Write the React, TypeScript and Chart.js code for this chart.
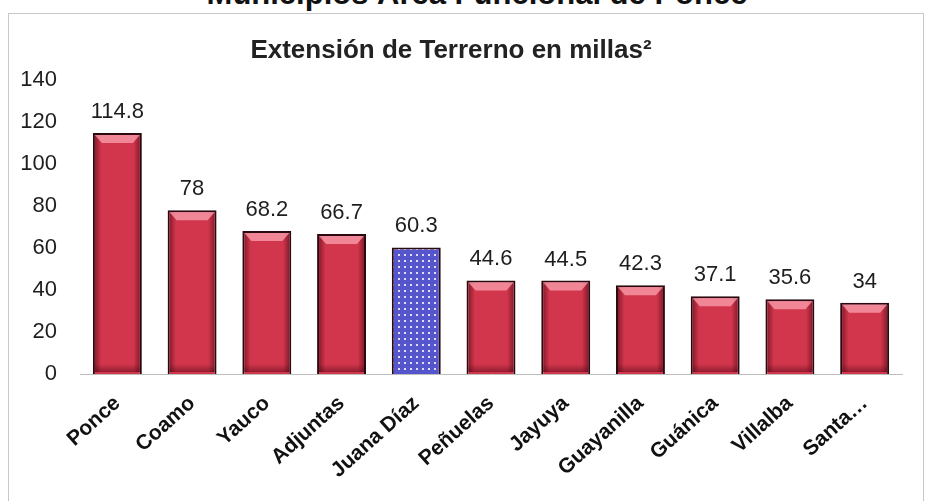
import { useEffect, useRef } from "react";
import { Chart, registerables } from "chart.js";

Chart.register(...registerables);

const mainTitle = "Municipios Área Funcional de Ponce";
const chartTitle = "Extensión de Terrerno en millas²";
const categories = [
  "Ponce",
  "Coamo",
  "Yauco",
  "Adjuntas",
  "Juana Díaz",
  "Peñuelas",
  "Jayuya",
  "Guayanilla",
  "Guánica",
  "Villalba",
  "Santa…",
];
const values = [114.8, 78, 68.2, 66.7, 60.3, 44.6, 44.5, 42.3, 37.1, 35.6, 34];
const valueLabels = ["114.8", "78", "68.2", "66.7", "60.3", "44.6", "44.5", "42.3", "37.1", "35.6", "34"];
const highlightIndex = 4;
const yMin = 0;
const yMax = 140;
const yStep = 20;

const FONT = "'Liberation Sans', Arial, Helvetica, sans-serif";

function makeDots(ctx: CanvasRenderingContext2D) {
  const c = document.createElement("canvas");
  c.width = 6;
  c.height = 6;
  const g = c.getContext("2d")!;
  g.fillStyle = "#5656cc";
  g.fillRect(0, 0, 6, 6);
  g.fillStyle = "#e2dcff";
  g.fillRect(2, 2, 2, 2);
  return ctx.createPattern(c, "repeat");
}

const bevelPlugin = {
  id: "bevel",
  afterDatasetsDraw(chart: any) {
    const ctx: CanvasRenderingContext2D = chart.ctx;
    const meta = chart.getDatasetMeta(0);
    meta.data.forEach((bar: any, i: number) => {
      const { x, y, base, width } = bar.getProps(["x", "y", "base", "width"], true);
      const x0 = x - width / 2 + 2;
      const x1 = x + width / 2 - 2;
      const top = y + 2;
      const bot = base - 2;
      ctx.save();
      if (i !== highlightIndex) {
        const g = ctx.createLinearGradient(x0, 0, x1, 0);
        g.addColorStop(0, "rgba(70,0,15,0.5)");
        g.addColorStop(0.14, "rgba(70,0,15,0)");
        g.addColorStop(0.86, "rgba(70,0,15,0)");
        g.addColorStop(1, "rgba(70,0,15,0.5)");
        ctx.fillStyle = g;
        ctx.fillRect(x0, top, x1 - x0, bot - top);
        const gb = ctx.createLinearGradient(0, bot - 8, 0, bot);
        gb.addColorStop(0, "rgba(70,0,15,0)");
        gb.addColorStop(1, "rgba(70,0,15,0.45)");
        ctx.fillStyle = gb;
        ctx.fillRect(x0, bot - 8, x1 - x0, 8);
        ctx.beginPath();
        ctx.moveTo(x0, top);
        ctx.lineTo(x1, top);
        ctx.lineTo(x1 - 7, top + 8);
        ctx.lineTo(x0 + 7, top + 8);
        ctx.closePath();
        ctx.fillStyle = "rgba(255,170,182,0.7)";
        ctx.fill();
      }
      ctx.fillStyle = "#1e1e1e";
      ctx.font = `22px ${FONT}`;
      ctx.textAlign = "center";
      ctx.textBaseline = "alphabetic";
      ctx.fillText(valueLabels[i], x, y - 15);
      ctx.restore();
    });
  },
};

export default function App() {
  const ref = useRef<HTMLCanvasElement>(null);

  useEffect(() => {
    const canvas = ref.current!;
    const ctx = canvas.getContext("2d")!;
    const dots = makeDots(ctx);
    const colors = values.map((_, i) => (i === highlightIndex ? dots : "#d1364c"));
    const chart = new Chart(ctx, {
      type: "bar",
      data: {
        labels: categories,
        datasets: [
          {
            data: values,
            backgroundColor: colors as any,
            borderColor: "#2a0a10",
            borderWidth: 2,
            barPercentage: 0.655,
            categoryPercentage: 1,
          },
        ],
      },
      plugins: [bevelPlugin],
      options: {
        responsive: false,
        animation: false,
        devicePixelRatio: 1,
        layout: { padding: { left: 0, right: 25, top: 0, bottom: 0 } },
        plugins: {
          legend: { display: false },
          tooltip: { enabled: false },
          title: {
            display: true,
            text: chartTitle,
            color: "#222",
            font: { family: FONT, size: 26, weight: "bold", lineHeight: 1.2 },
            padding: { top: 35, bottom: 14 },
          },
        },
        scales: {
          x: {
            grid: { display: false, drawTicks: false },
            border: { display: true, color: "#bdbdbd", width: 1 },
            ticks: {
              autoSkip: false,
              maxRotation: 42,
              minRotation: 42,
              color: "#111",
              padding: 17,
              font: { family: FONT, size: 21, weight: "bold" },
            },
            afterFit: (s: any) => {
              s.height = 127;
            },
          },
          y: {
            min: yMin,
            max: yMax,
            grid: { display: false, drawTicks: false },
            border: { display: false },
            ticks: {
              stepSize: yStep,
              color: "#1e1e1e",
              padding: 23,
              font: { family: FONT, size: 22 },
            },
            afterFit: (s: any) => {
              s.width = 80;
            },
          },
        },
      },
    });
    return () => chart.destroy();
  }, []);

  return (
    <div
      style={{
        position: "absolute",
        left: 0,
        top: 0,
        width: 927,
        height: 501,
        overflow: "hidden",
        background: "#fff",
      }}
    >
      <div
        style={{
          position: "absolute",
          left: 0,
          top: -22,
          width: 954,
          textAlign: "center",
          font: `bold 31px/31px ${FONT}`,
          color: "#111",
          whiteSpace: "nowrap",
        }}
      >
        {mainTitle}
      </div>
      <div
        style={{
          position: "absolute",
          left: 8,
          top: 13,
          width: 916,
          height: 500,
          border: "1px solid #c8c8c8",
          boxSizing: "border-box",
        }}
      />
      <canvas
        ref={ref}
        width={927}
        height={501}
        style={{ position: "absolute", left: 0, top: 0, width: 927, height: 501 }}
      />
    </div>
  );
}
